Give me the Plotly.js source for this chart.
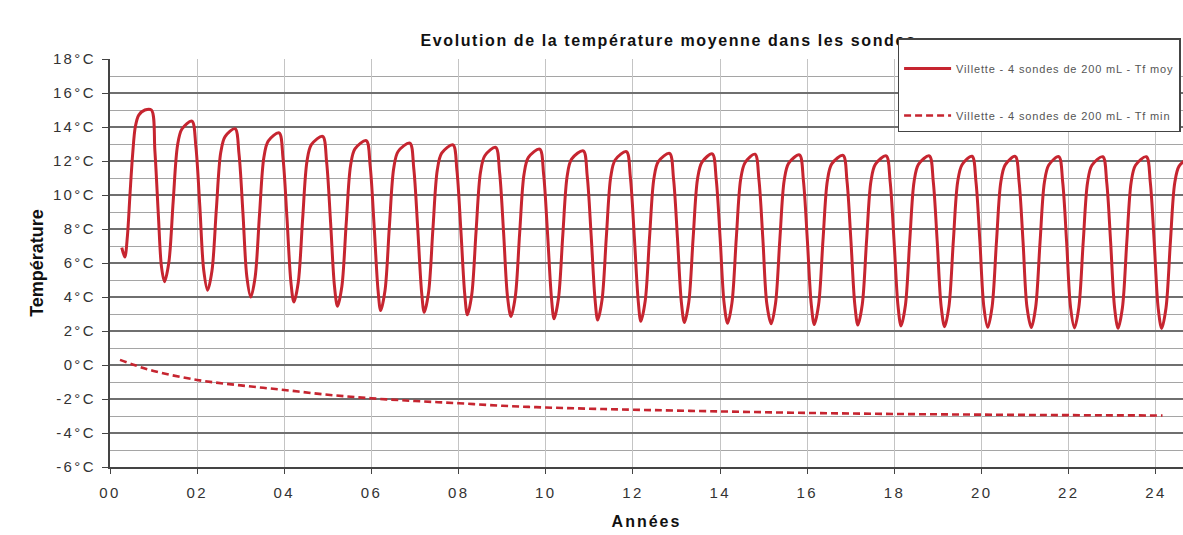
<!DOCTYPE html>
<html>
<head>
<meta charset="utf-8">
<script src="https://cdn.plot.ly/plotly-3.0.1.min.js"></script>
<style>
html,body{margin:0;padding:0;background:#fff;}
#chart{width:1183px;height:535px;}
.xtick text, .ytick text{letter-spacing:2.4px;}
.gtitle{letter-spacing:1.6px;}
.xtitle{letter-spacing:2px;}
.legendtext{letter-spacing:0.85px;}
</style>
</head>
<body>
<div id="chart"></div>
<script>
// Series names
const seriesMoyName = "Villette - 4 sondes de 200 mL - Tf moy";
const seriesMinName = "Villette - 4 sondes de 200 mL - Tf min";

// Tf moy (years, °C)
const moyX = [
  0.27,0.34,0.40,0.46,0.52,0.58,0.66,0.80,0.95,1.03,1.11,1.18,
  1.25,1.35,1.45,1.55,1.65,1.88,1.97,2.06,2.15,
  2.24,2.34,2.44,2.54,2.64,2.87,2.96,3.05,3.14,
  3.23,3.33,3.43,3.53,3.63,3.88,3.97,4.06,4.15,
  4.22,4.32,4.42,4.52,4.62,4.88,4.97,5.06,5.15,
  5.22,5.32,5.42,5.52,5.62,5.88,5.97,6.06,6.15,
  6.21,6.31,6.41,6.51,6.61,6.88,6.97,7.06,7.15,
  7.21,7.31,7.41,7.51,7.61,7.87,7.96,8.05,8.14,
  8.20,8.30,8.40,8.50,8.60,8.85,8.94,9.03,9.12,
  9.20,9.30,9.40,9.50,9.60,9.86,9.95,10.04,10.13,
  10.19,10.29,10.39,10.49,10.59,10.86,10.95,11.04,11.13,
  11.19,11.29,11.39,11.49,11.59,11.85,11.94,12.03,12.12,
  12.18,12.28,12.38,12.48,12.58,12.84,12.93,13.02,13.11,
  13.18,13.28,13.38,13.48,13.58,13.82,13.91,14.00,14.09,
  14.17,14.27,14.37,14.47,14.57,14.80,14.89,14.98,15.07,
  15.17,15.27,15.37,15.47,15.57,15.82,15.91,16.00,16.09,
  16.16,16.26,16.36,16.46,16.56,16.82,16.91,17.00,17.09,
  17.16,17.26,17.36,17.46,17.56,17.81,17.90,17.99,18.08,
  18.15,18.25,18.35,18.45,18.55,18.80,18.89,18.98,19.07,
  19.15,19.25,19.35,19.45,19.55,19.78,19.87,19.96,20.05,
  20.14,20.24,20.34,20.44,20.54,20.77,20.86,20.95,21.04,
  21.14,21.24,21.34,21.44,21.54,21.77,21.86,21.95,22.04,
  22.13,22.23,22.33,22.43,22.53,22.78,22.87,22.96,23.05,
  23.13,23.23,23.33,23.43,23.53,23.78,23.87,23.96,24.05,
  24.13,24.23,24.33,24.43,24.53,24.78
];
const moyY = [
  6.9,6.35,7.6,10.1,12.4,14.0,14.7,15.0,15.0,12.6,8.8,5.8,
  4.9,6.03,9.63,12.93,13.88,14.35,12.86,9.38,5.59,
  4.4,5.54,9.15,12.48,13.43,13.9,12.42,8.95,5.19,
  4.0,5.16,8.83,12.2,13.17,13.65,12.16,8.68,4.89,
  3.7,4.87,8.58,11.99,12.96,13.45,11.95,8.45,4.65,
  3.45,4.62,8.33,11.74,12.71,13.2,11.7,8.2,4.4,
  3.2,4.38,8.13,11.57,12.56,13.05,11.56,8.08,4.29,
  3.1,4.28,8.03,11.47,12.46,12.95,11.45,7.95,4.15,
  2.95,4.13,7.88,11.32,12.31,12.8,11.31,7.83,4.04,
  2.85,4.03,7.78,11.22,12.21,12.7,11.2,7.71,3.92,
  2.72,3.91,7.66,11.12,12.11,12.6,11.11,7.63,3.84,
  2.65,3.84,7.6,11.07,12.06,12.55,11.05,7.56,3.77,
  2.57,3.76,7.51,10.97,11.96,12.45,10.96,7.48,3.69,
  2.5,3.69,7.46,10.93,11.92,12.42,10.92,7.44,3.65,
  2.45,3.64,7.43,10.91,11.9,12.4,10.9,7.41,3.62,
  2.42,3.61,7.39,10.87,11.86,12.36,10.86,7.37,3.58,
  2.38,3.57,7.36,10.84,11.83,12.33,10.83,7.34,3.55,
  2.35,3.54,7.33,10.81,11.8,12.3,10.8,7.3,3.5,
  2.3,3.5,7.3,10.8,11.8,12.3,10.79,7.28,3.46,
  2.25,3.45,7.27,10.78,11.78,12.28,10.77,7.25,3.43,
  2.22,3.43,7.25,10.76,11.77,12.27,10.76,7.24,3.41,
  2.2,3.41,7.23,10.75,11.76,12.26,10.75,7.22,3.39,
  2.18,3.39,7.22,10.74,11.75,12.25,10.74,7.21,3.37,
  2.16,3.37,7.21,10.74,11.75,12.25,10.74,7.2,3.36,
  2.15,3.35,7.2,10.7,11.7,12.25
];

// Tf min (years, °C)
const minX = [0.23,0.5,1,2,3,4,5,6,7,8,9,10,11,12,14,16,18,20,22,24.15];
const minY = [0.3,0.05,-0.35,-0.88,-1.2,-1.47,-1.75,-1.96,-2.12,-2.25,-2.4,-2.5,-2.57,-2.63,-2.73,-2.82,-2.88,-2.92,-2.95,-2.97];

// Axis ticks
const xTickVals = [0,2,4,6,8,10,12,14,16,18,20,22,24];
const xTickText = ["00","02","04","06","08","10","12","14","16","18","20","22","24"];
const yTickVals = [-6,-4,-2,0,2,4,6,8,10,12,14,16,18];
const yTickText = ["-6°C","-4°C","-2°C","0°C","2°C","4°C","6°C","8°C","10°C","12°C","14°C","16°C","18°C"];

const titleText = "Evolution de la température moyenne dans les sondes";
const xTitle = "Années";
const yTitle = "Température";

const red = "#c62530";
const font = "Liberation Sans, Arial, sans-serif";

const traces = [
  {x: moyX, y: moyY, name: seriesMoyName, type: "scatter", mode: "lines",
   line: {color: red, width: 3, shape: "spline", smoothing: 0.9},
   legendgroup: "a", hoverinfo: "skip"},
  {x: minX, y: minY, name: seriesMinName, type: "scatter", mode: "lines",
   line: {color: red, width: 2.6, dash: "7px,4px", shape: "spline"},
   legendgroup: "b", hoverinfo: "skip"}
];

const layout = {
  width: 1183, height: 535,
  margin: {l: 110, r: 0, t: 59, b: 68, autoexpand: false},
  paper_bgcolor: "#fff", plot_bgcolor: "#fff",
  font: {family: font, color: "#333"},
  showlegend: true,
  title: {text: titleText, x: 0.5205, xanchor: "center", xref: "paper",
          y: 0.924, yanchor: "middle",
          font: {family: font, size: 16, weight: "bold", color: "#111"}},
  xaxis: {range: [0, 24.62], tickvals: xTickVals, ticktext: xTickText,
          showgrid: true, gridcolor: "#c4c4c4", gridwidth: 1,
          showline: true, linecolor: "#444", linewidth: 2,
          ticks: "outside", ticklen: 5, tickcolor: "#444",
          ticklabelstandoff: 6,
          tickfont: {family: font, size: 15, color: "#333"},
          zeroline: false,
          title: {text: xTitle, standoff: 16, font: {family: font, size: 16, weight: "bold", color: "#111"}}},
  yaxis: {range: [-6, 18], tickvals: yTickVals, ticktext: yTickText,
          showgrid: true, gridcolor: "#6f6f6f", gridwidth: 1.4,
          minor: {dtick: 1, tick0: 0, showgrid: true, gridcolor: "#a5a5a5", gridwidth: 1},
          showline: true, linecolor: "#444", linewidth: 2,
          ticks: "outside", ticklen: 6, tickcolor: "#444",
          ticklabelstandoff: 3,
          tickfont: {family: font, size: 15, color: "#333"},
          zeroline: false,
          title: {text: yTitle, standoff: 5, font: {family: font, size: 18, weight: "bold", color: "#111"}}},
  legend: {x: 0.734, xanchor: "left", y: 1.051, yanchor: "top",
           bgcolor: "#fff", bordercolor: "#444", borderwidth: 1.5,
           traceorder: "grouped", tracegroupgap: 28,
           title: {text: " ", font: {size: 11}},
           font: {family: font, size: 11, color: "#555"},
           itemwidth: 47}
};

Plotly.newPlot("chart", traces, layout, {staticPlot: true, displayModeBar: false}).then(function () {
  // draw the legend box above the title, as in the original
  const leg = document.querySelector("#chart .legend");
  if (leg && leg.parentNode) leg.parentNode.appendChild(leg);
});
</script>
</body>
</html>
